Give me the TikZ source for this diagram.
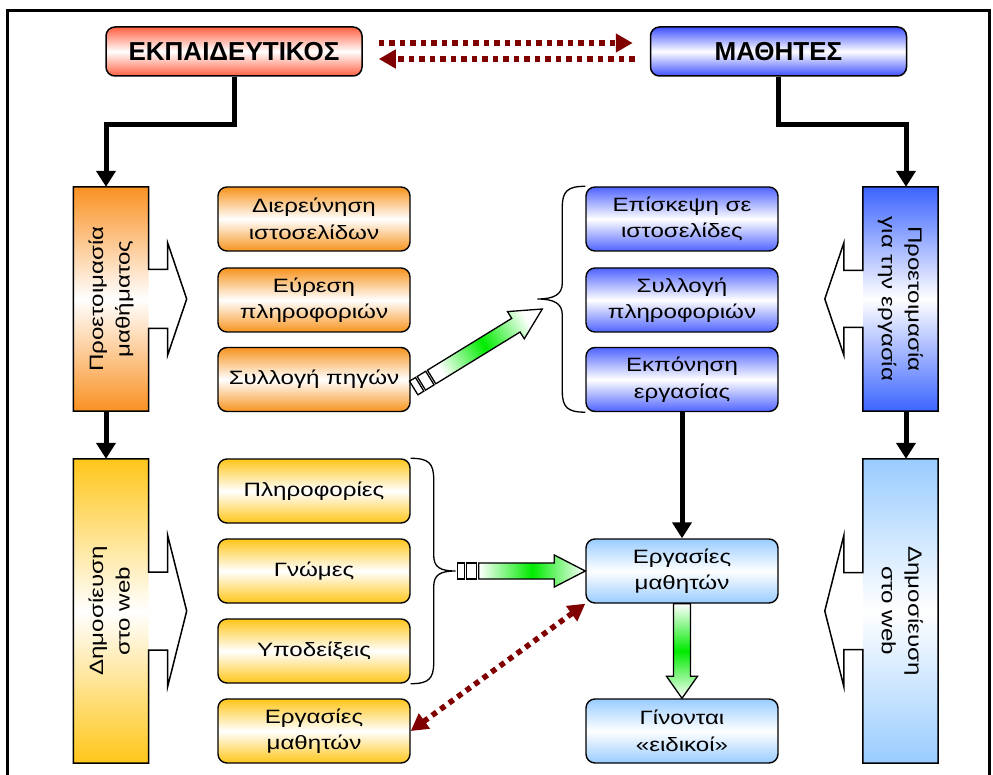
\documentclass[tikz,border=0pt]{standalone}
\usepackage{graphicx}
\usepackage{fontspec}
\setmainfont{Liberation Sans}
\newfontfamily\bodyfont[FakeStretch=1.25]{Liberation Sans}
\usetikzlibrary{arrows.meta,calc}

\definecolor{tred}{RGB}{255,96,64}
\definecolor{tblue}{RGB}{64,80,255}
\definecolor{orng}{RGB}{247,148,30}
\definecolor{orcol}{RGB}{250,145,35}
\definecolor{yel}{RGB}{255,198,26}
\definecolor{bluebox}{RGB}{80,100,255}
\definecolor{bluecol}{RGB}{60,100,255}
\definecolor{lblue}{RGB}{153,204,255}
\definecolor{grn}{RGB}{0,235,0}
\definecolor{dred}{RGB}{128,0,0}

\tikzset{
  every node/.style={font=\bodyfont\fontsize{19.3}{26.5}\selectfont, text=black},
  titlebox/.style={draw=black, line width=1.5pt, rounded corners=9pt,
    minimum width=256pt, minimum height=49pt, inner sep=0pt,
    font=\rmfamily\bfseries\fontsize{26}{30}\selectfont},
  midbox/.style={draw=black, line width=1.4pt, rounded corners=9pt,
    minimum width=192pt, minimum height=64pt, inner sep=0pt, align=center},
  sidebox/.style={draw=none, minimum width=75pt, inner sep=0pt},
  shadeof/.style={top color=#1, bottom color=#1, middle color=white},
  outl/.style={draw=black, line width=1.5pt},
  conn/.style={draw=black, line width=5pt, -{Triangle[length=16pt,width=19pt]}},
  dotarrow/.style={draw=dred, line width=5.5pt, dash pattern=on 5.5pt off 5pt},
  thinout/.style={draw=black, line width=1.3pt},
  bracepath/.style={draw=black, line width=1.3pt},
}

% callout: #1 node, #2 side anchor, #3 direction (+1/-1), #4 notch half, #5 head half, #6 opposite anchor
\newcommand\callout[6]{%
  \fill[white] ($(#1.#2)+(0,-#4)$) -- ($(#1.#2)+(#3*19,-#4)$) -- ($(#1.#2)+(#3*19,-#5)$)
    -- ($(#1.#2)+(#3*38,0)$) -- ($(#1.#2)+(#3*19,#5)$) -- ($(#1.#2)+(#3*19,#4)$)
    -- ($(#1.#2)+(0,#4)$) -- cycle;
  \draw[outl] (#1.north #6) -- (#1.north #2) -- ($(#1.#2)+(0,-#4)$) -- ($(#1.#2)+(#3*19,-#4)$)
    -- ($(#1.#2)+(#3*19,-#5)$) -- ($(#1.#2)+(#3*38,0)$) -- ($(#1.#2)+(#3*19,#5)$)
    -- ($(#1.#2)+(#3*19,#4)$) -- ($(#1.#2)+(0,#4)$) -- (#1.south #2) -- (#1.south #6) -- cycle;
}

% striped arrow: #1 tail, #2 tip, #3 shading angle
\newcommand\sarrow[3]{%
  \draw[thinout, fill=white] ($(#1)!0pt!(#2)!8pt!90:(#2)$) -- ($(#1)!7pt!(#2)!8pt!90:(#2)$)
    -- ($(#1)!7pt!(#2)!8pt!-90:(#2)$) -- ($(#1)!0pt!(#2)!8pt!-90:(#2)$) -- cycle;
  \draw[thinout, fill=white] ($(#1)!9pt!(#2)!8pt!90:(#2)$) -- ($(#1)!19pt!(#2)!8pt!90:(#2)$)
    -- ($(#1)!19pt!(#2)!8pt!-90:(#2)$) -- ($(#1)!9pt!(#2)!8pt!-90:(#2)$) -- cycle;
  \draw[thinout, top color=white, bottom color=white, middle color=grn, shading angle=#3]
    ($(#1)!21pt!(#2)!8pt!90:(#2)$) -- ($(#2)!31pt!(#1)!8pt!-90:(#1)$)
    -- ($(#2)!31pt!(#1)!16pt!-90:(#1)$) -- (#2)
    -- ($(#2)!31pt!(#1)!16pt!90:(#1)$) -- ($(#2)!31pt!(#1)!8pt!90:(#1)$)
    -- ($(#1)!21pt!(#2)!8pt!-90:(#2)$) -- cycle;
}

\begin{document}
\begin{tikzpicture}[x=1pt,y=-1pt]
\clip (0,0) rectangle (993,775);
\fill[white] (0,0) rectangle (993,775);
\draw[line width=3pt] (7.5,10.5) rectangle (989,800);

% title boxes
\node[titlebox, shadeof=tred] (teach) at (234,51.5) {ΕΚΠΑΙΔΕΥΤΙΚΟΣ};
\node[titlebox, shadeof=tblue] (stud) at (778.5,51.5) {ΜΑΘΗΤΕΣ};

% side columns
\node[sidebox, minimum height=224pt, shadeof=orcol] (pm) at (111,299) {};
\node[sidebox, minimum height=304pt, shadeof=yel] (pw) at (111,611) {};
\node[sidebox, minimum height=224pt, shadeof=bluecol] (pr) at (900.5,299) {};
\node[sidebox, minimum height=304pt, shadeof=lblue] (pwr) at (900.5,611) {};

\callout{pm}{east}{1}{29.5}{56}{west}
\callout{pw}{east}{1}{39}{75.5}{west}
\callout{pr}{west}{-1}{28.5}{56}{east}
\callout{pwr}{west}{-1}{38.5}{75.5}{east}

\node at (pm) {\rotatebox{90}{\begin{tabular}{@{}c@{}}Προετοιμασία\\μαθήματος\end{tabular}}};
\node at (pw) {\rotatebox{90}{\begin{tabular}{@{}c@{}}Δημοσίευση\\στο web\end{tabular}}};
\node at (pr) {\rotatebox{-90}{\begin{tabular}{@{}c@{}}Προετοιμασία\\για την εργασία\end{tabular}}};
\node at (pwr) {\rotatebox{-90}{\begin{tabular}{@{}c@{}}Δημοσίευση\\στο web\end{tabular}}};

% middle boxes
\node[midbox, shadeof=orng] (d1) at (314,219) {Διερεύνηση\\ιστοσελίδων};
\node[midbox, shadeof=orng] (d2) at (314,300) {Εύρεση\\πληροφοριών};
\node[midbox, shadeof=orng] (d3) at (314,379.5) {Συλλογή πηγών};
\node[midbox, shadeof=yel] (y1) at (314,491) {Πληροφορίες};
\node[midbox, shadeof=yel] (y2) at (314,571) {Γνώμες};
\node[midbox, shadeof=yel] (y3) at (314,651) {Υποδείξεις};
\node[midbox, shadeof=yel] (y4) at (314,731) {Εργασίες\\μαθητών};
\node[midbox, shadeof=bluebox] (b1) at (682,219) {Επίσκεψη σε\\ιστοσελίδες};
\node[midbox, shadeof=bluebox] (b2) at (682,300) {Συλλογή\\πληροφοριών};
\node[midbox, shadeof=bluebox] (b3) at (682,379.5) {Εκπόνηση\\εργασίας};
\node[midbox, shadeof=lblue] (em) at (682,571) {Εργασίες\\μαθητών};
\node[midbox, shadeof=lblue] (gi) at (682,731) {Γίνονται\\«ειδικοί»};

% black connectors
\draw[conn] (teach.south) -- ++(0,48) -| ([xshift=-5pt]pm.north);
\draw[conn] (stud.south) -- ++(0,48) -| ([xshift=5.5pt]pr.north);
\draw[conn] ([xshift=-5pt]pm.south) -- ([xshift=-5pt]pw.north);
\draw[conn] ([xshift=5.5pt]pr.south) -- ([xshift=5.5pt]pwr.north);
\draw[conn] (b3.south) -- (em.north);

% dotted arrows
\draw[dotarrow, -{Triangle[length=17pt,width=18pt]}] ([xshift=16pt,yshift=8.5pt]teach.east) -- ([xshift=-17pt,yshift=8.5pt]stud.west);
\draw[dotarrow, -{Triangle[length=17pt,width=18pt]}] ([xshift=-15pt,yshift=-7.5pt]stud.west) -- ([xshift=16pt,yshift=-7.5pt]teach.east);
\draw[dotarrow, {Triangle[length=17pt,width=18pt]}-{Triangle[length=17pt,width=18pt]}] (y4.east) -- (em.south west);

% braces
\coordinate (ybt) at ($(y2.east)+(45,0)$);
\draw[bracepath] (y1.north east) .. controls +(18,0) and +(0,-16) .. ($(y1.north east)+(23,21)$)
  -- ($(ybt)+(-22,-16)$) .. controls +(0,12) and +(-16,0) .. (ybt)
  .. controls +(-16,0) and +(0,-12) .. ($(ybt)+(-22,16)$)
  -- ($(y3.south east)+(23,-21)$) .. controls +(0,16) and +(18,0) .. (y3.south east);
\coordinate (bbt) at ($(b2.west)+(-48,-1)$);
\draw[bracepath] (b1.north west) .. controls +(-18,0) and +(0,-16) .. ($(b1.north west)+(-23,21)$)
  -- ($(bbt)+(25,-16)$) .. controls +(0,12) and +(16,0) .. (bbt)
  .. controls +(16,0) and +(0,-12) .. ($(bbt)+(25,16)$)
  -- ($(b3.south west)+(-23,-21)$) .. controls +(0,16) and +(-18,0) .. (b3.south west);

% striped green arrows
\coordinate (s1t) at ([xshift=3pt,yshift=-8.5pt]d3.east);
\coordinate (s1p) at ([xshift=5pt,yshift=-10pt]bbt);
\sarrow{s1t}{s1p}{121}
\coordinate (s2t) at ([xshift=2pt]ybt);
\sarrow{s2t}{em.west}{90}

% green down arrow
\draw[thinout, top color=white, bottom color=white, middle color=grn]
  ($(em.south)+(-8.5,0)$) -- ($(gi.north)+(-8.5,-22)$) -- ($(gi.north)+(-15.5,-22)$)
  -- (gi.north) -- ($(gi.north)+(15.5,-22)$) -- ($(gi.north)+(8.5,-22)$)
  -- ($(em.south)+(8.5,0)$) -- cycle;
\end{tikzpicture}
\end{document}
